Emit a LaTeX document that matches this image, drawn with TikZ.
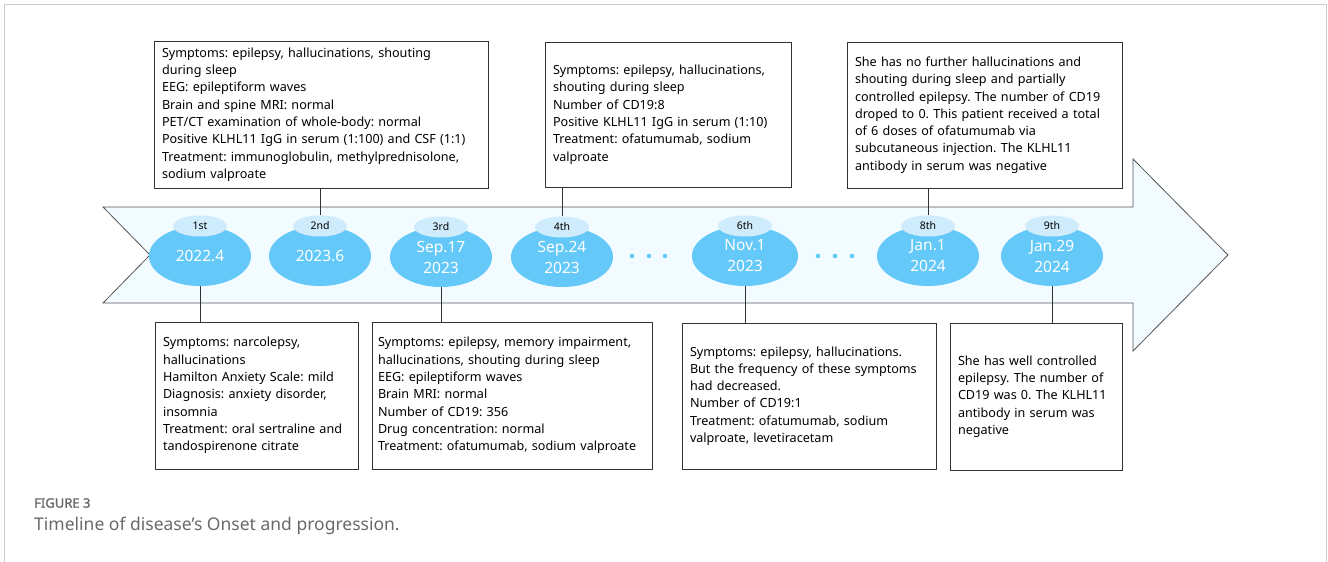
\documentclass[tikz,border=0pt]{standalone}
\usepackage{fontspec}
\setmainfont{Noto Sans}
\newfontfamily\figfont{Noto Sans}[FakeBold=1.6]
\usetikzlibrary{shapes.geometric,positioning}
\definecolor{datebl}{RGB}{100,200,248}
\definecolor{tagbl}{RGB}{206,236,251}
\definecolor{bandbl}{RGB}{242,251,255}
\definecolor{edgegr}{RGB}{85,85,85}
\definecolor{capgr}{RGB}{105,105,105}
\frenchspacing

\begin{document}
\begin{tikzpicture}[x=1pt,y=-1pt,on grid,node distance=30pt,
  date/.style={ellipse,fill=datebl,text=white,minimum width=102pt,minimum height=60pt,inner sep=0pt,align=center,font=\fontsize{15.5}{21}\selectfont},
  tag/.style={ellipse,fill=tagbl,minimum width=54pt,minimum height=21pt,inner sep=0pt,font=\fontsize{10.5}{12}\selectfont},
  note/.style={draw=black!80,line width=0.8pt,fill=white,align=left,inner xsep=8pt,inner ysep=3pt,text width=#1,font=\fontsize{12.6}{17.3}\selectfont},
  every edge/.style={draw=black!80,line width=0.8pt}]
\useasboundingbox (0,0) rectangle (1328,562);
\draw[black!20,line width=0.8pt] (4,562) -- (4,4) -- (1326,4) -- (1326,562);
\draw[edgegr,fill=bandbl,line width=0.8pt] (103,207) -- (1133,207) -- (1133,159) -- (1228,255) -- (1133,351) -- (1133,303) -- (103,303) -- (150,255) -- cycle;
\foreach \x in {632,649,665,818,835,852}
  \fill[datebl] (\x,256) circle[radius=2.3pt];

\node[date] (e1) at (200,256) {2022.4};
\node[date] (e2) at (320,256) {2023.6};
\node[date] (e3) at (441,257) {Sep.17\\2023};
\node[date] (e4) at (562,257) {Sep.24\\2023};
\node[date,minimum width=106pt] (e6) at (745,256) {Nov.1\\2023};
\node[date] (e8) at (928,256) {Jan.1\\2024};
\node[date] (e9) at (1052,256) {Jan.29\\2024};
\foreach \n/\t in {1/1st,2/2nd,3/3rd,4/4th,6/6th,8/8th,9/9th}
  \node[tag] (t\n) [above=of e\n] {\t};

\node[note=318pt,minimum height=147pt] (a2) at (321,114.5) {Symptoms: epilepsy, hallucinations, shouting\\during sleep\\EEG: epileptiform waves\\Brain and spine MRI: normal\\PET/CT examination of whole-body: normal\\Positive KLHL11 IgG in serum (1:100) and CSF (1:1)\\Treatment: immunoglobulin, methylprednisolone,\\sodium valproate};
\node[note=230pt,minimum height=145pt] (a4) at (668,114.5) {Symptoms: epilepsy, hallucinations,\\shouting during sleep\\Number of CD19:8\\Positive KLHL11 IgG in serum (1:10)\\Treatment: ofatumumab, sodium\\valproate};
\node[note=259pt,minimum height=146pt] (a8) at (984.5,115) {She has no further hallucinations and\\shouting during sleep and partially\\controlled epilepsy. The number of CD19\\droped to 0. This patient received a total\\of 6 doses of ofatumumab via\\subcutaneous injection. The KLHL11\\antibody in serum was negative};
\node[note=187pt,minimum height=147pt] (b1) at (256.5,395.5) {Symptoms: narcolepsy,\\hallucinations\\Hamilton Anxiety Scale: mild\\Diagnosis: anxiety disorder,\\insomnia\\Treatment: oral sertraline and\\tandospirenone citrate};
\node[note=268pt,inner xsep=6pt,minimum height=147pt] (b3) at (512,395.5) {Symptoms: epilepsy, memory impairment,\\hallucinations, shouting during sleep\\EEG: epileptiform waves\\Brain MRI: normal\\Number of CD19: 356\\Drug concentration: normal\\Treatment: ofatumumab, sodium valproate};
\node[note=238pt,minimum height=146pt] (b6) at (809,396) {Symptoms: epilepsy, hallucinations.\\But the frequency of these symptoms\\had decreased.\\Number of CD19:1\\Treatment: ofatumumab, sodium\\valproate, levetiracetam};
\node[note=156pt,minimum height=147pt] (b9) at (1036,396.5) {She has well controlled\\epilepsy. The number of\\CD19 was 0. The KLHL11\\antibody in serum was\\negative};

\path (a2.south -| t2) edge (t2.north)
      (a4.south -| t4) edge (t4.north)
      (a8.south -| t8) edge (t8.north)
      (e1.south) edge (b1.north -| e1)
      (e3.south) edge (b3.north -| e3)
      (e6.south) edge (b6.north -| e6)
      (e9.south) edge (b9.north -| e9);

\node[anchor=west,inner sep=0pt,text=capgr,font=\figfont\fontsize{13}{15}\selectfont] (fig) at (34,503) {FIGURE 3};
\node[anchor=west,inner sep=0pt,text=capgr,font=\fontsize{17.5}{20}\selectfont] (cap) at (34,526) {Timeline of disease’s Onset and progression.};
\end{tikzpicture}
\end{document}
